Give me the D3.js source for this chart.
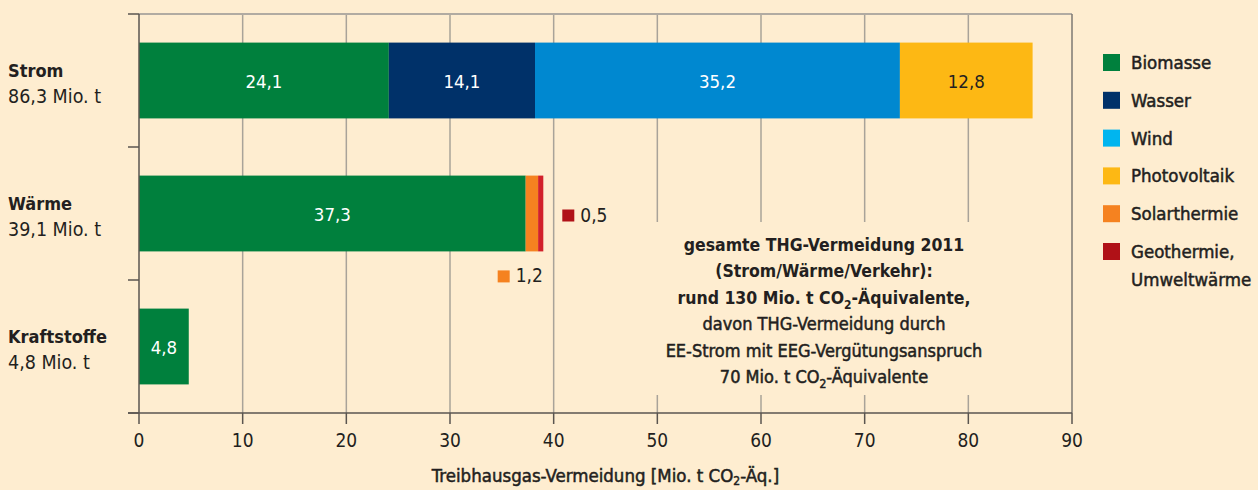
<!DOCTYPE html>
<html>
<head>
<meta charset="utf-8">
<script src="https://cdn.jsdelivr.net/npm/d3@7"></script>
<style>
  html, body { margin: 0; padding: 0; background: #feedd0; }
  svg { display: block; }
  text { font-family: "Liberation Sans Narrow", "DejaVu Sans Condensed", sans-serif; fill: #231f20; }
</style>
</head>
<body>
<svg id="chart"></svg>
<script>
// ── Data ──────────────────────────────────────────────────────────────────
const categories  = ["Strom", "Wärme", "Kraftstoffe"];
const totalLabels = ["86,3 Mio. t", "39,1 Mio. t", "4,8 Mio. t"];
const sources     = ["Biomasse", "Wasser", "Wind", "Photovoltaik", "Solarthermie", "Geothermie"];
const legendNames = ["Biomasse", "Wasser", "Wind", "Photovoltaik", "Solarthermie", ["Geothermie,", "Umweltwärme"]];
const strom       = [24.1, 14.1, 35.2, 12.8, 0, 0];
const waerme      = [37.3, 0, 0, 0, 1.2, 0.5];
const kraftstoffe = [4.8, 0, 0, 0, 0, 0];
const xTicks      = [0, 10, 20, 30, 40, 50, 60, 70, 80, 90];

const barColors    = ["#00803d", "#003169", "#0088d0", "#fdb814", "#f58220", "#d2202a"];
const legendColors = ["#00803d", "#003169", "#00b5ef", "#fdb814", "#f58220", "#b01117"];

const note = [
    { bold: true,  parts: ["gesamte THG-Vermeidung 2011"] },
    { bold: true,  parts: ["(Strom/Wärme/Verkehr):"] },
    { bold: true,  parts: ["rund 130 Mio. t CO", "2", "-Äquivalente,"] },
    { bold: false, parts: ["davon THG-Vermeidung durch"] },
    { bold: false, parts: ["EE-Strom mit EEG-Vergütungsanspruch"] },
    { bold: false, parts: ["70 Mio. t CO", "2", "-Äquivalente"] }
];

const W = 1258, H = 490;
const svg = d3.select("#chart").attr("width", W).attr("height", H);

const rows = [strom, waerme, kraftstoffe].map((v, i) => {
    const o = { cat: categories[i] };
    sources.forEach((s, j) => o[s] = v[j]);
    return o;
});
const series = d3.stack().keys(sources)(rows);

// ── Scales ────────────────────────────────────────────────────────────────
const x = d3.scaleLinear().domain([0, 90]).range([139, 1072]);
const y = d3.scaleBand().domain(categories).range([14, 413])
    .paddingInner(0.43).paddingOuter(0.215);
const step = y.step();

// ── Grid ──────────────────────────────────────────────────────────────────
svg.append("g")
    .selectAll("line")
    .data(xTicks.slice(1, -1))
    .join("line")
    .attr("x1", d => x(d)).attr("x2", d => x(d))
    .attr("y1", 14).attr("y2", 413)
    .attr("stroke", "#a9a399").attr("stroke-width", 1.5);

// frame top / right
svg.append("line").attr("x1", x(0)).attr("x2", x(90)).attr("y1", 14).attr("y2", 14)
    .attr("stroke", "#b1aba2").attr("stroke-width", 2);
svg.append("line").attr("x1", x(90)).attr("x2", x(90)).attr("y1", 14).attr("y2", 413)
    .attr("stroke", "#7d7873").attr("stroke-width", 1.5);

// cream box behind the note (hides grid)
svg.append("rect")
    .attr("x", 640).attr("y", 222).attr("width", 365).attr("height", 173)
    .attr("fill", "#feedd0");

// ── Bars ──────────────────────────────────────────────────────────────────
const seg = svg.append("g").selectAll("g")
    .data(series)
    .join("g")
    .attr("fill", (d, i) => barColors[i]);

seg.selectAll("rect")
    .data(d => d.filter(p => p[1] > p[0]))
    .join("rect")
    .attr("x", p => x(p[0]))
    .attr("width", p => x(p[1]) - x(p[0]))
    .attr("y", p => y(p.data.cat))
    .attr("height", y.bandwidth());

// value labels inside bars
const inside = [];
series.forEach((s, i) => s.forEach(p => {
    if (p[1] - p[0] >= 4) inside.push({ p, i });
}));
svg.append("g").selectAll("text")
    .data(inside)
    .join("text")
    .attr("x", d => (x(d.p[0]) + x(d.p[1])) / 2)
    .attr("y", d => y(d.p.data.cat) + y.bandwidth() / 2 + 7)
    .attr("text-anchor", "middle")
    .attr("font-size", 18.5)
    .style("fill", d => d.i === 3 ? "#231f20" : "#ffffff")
    .text(d => d3.format(".1f")(d.p[1] - d.p[0]).replace(".", ","));

// callouts for the small Wärme segments
const wRow = rows[1];
const callouts = [
    { src: 5, cx: x(wRow.Biomasse + wRow.Solarthermie + wRow.Geothermie) + 19,
      cy: y("Wärme") + y.bandwidth() / 2 + 2 },
    { src: 4, cx: x(wRow.Biomasse) - 28,
      cy: y("Wärme") + y.bandwidth() + 25 }
];
const cg = svg.append("g").selectAll("g").data(callouts).join("g");
cg.append("rect")
    .attr("x", d => d.cx).attr("y", d => d.cy - 6)
    .attr("width", 12).attr("height", 12)
    .attr("fill", d => legendColors[d.src]);
cg.append("text")
    .attr("x", d => d.cx + 18).attr("y", d => d.cy + 6)
    .attr("font-size", 19)
    .text(d => String(wRow[sources[d.src]]).replace(".", ","));

// ── Axes ──────────────────────────────────────────────────────────────────
const axisCol = "#5a5550";
svg.append("line").attr("x1", 128).attr("x2", x(90)).attr("y1", 413).attr("y2", 413)
    .attr("stroke", axisCol).attr("stroke-width", 1.5);
svg.append("line").attr("x1", x(0)).attr("x2", x(0)).attr("y1", 14).attr("y2", 413)
    .attr("stroke", axisCol).attr("stroke-width", 1.5);

// y ticks at band boundaries
const bounds = categories.map(c => y(c) - step * 0.215).concat([413]);
svg.append("g").selectAll("line").data(bounds).join("line")
    .attr("x1", 128).attr("x2", x(0))
    .attr("y1", d => d).attr("y2", d => d)
    .attr("stroke", axisCol).attr("stroke-width", 1.5);

// x ticks + labels
const xg = svg.append("g").selectAll("g").data(xTicks).join("g");
xg.append("line")
    .attr("x1", d => x(d)).attr("x2", d => x(d))
    .attr("y1", 413).attr("y2", 424)
    .attr("stroke", axisCol).attr("stroke-width", 1.5);
xg.append("text")
    .attr("x", d => x(d)).attr("y", 447)
    .attr("text-anchor", "middle").attr("font-size", 19)
    .text(d => d);

// x axis title
const xt = svg.append("text")
    .attr("x", (x(0) + x(90)) / 2).attr("y", 482)
    .attr("text-anchor", "middle").attr("font-size", 18.5)
    .style("stroke", "#231f20").style("stroke-width", 0.5);
xt.append("tspan").text("Treibhausgas-Vermeidung [Mio. t CO");
xt.append("tspan").attr("font-size", 12).attr("dy", 3).text("2");
xt.append("tspan").attr("dy", -3).text("-Äq.]");

// ── Category labels ───────────────────────────────────────────────────────
const cl = svg.append("g").selectAll("g").data(categories).join("g");
cl.append("text")
    .attr("x", 8).attr("y", d => y(d) + y.bandwidth() / 2 - 4)
    .attr("font-size", 18).attr("font-weight", "bold")
    .text(d => d);
cl.append("text")
    .attr("x", 8).attr("y", d => y(d) + y.bandwidth() / 2 + 22)
    .attr("font-size", 19.5)
    .text((d, i) => totalLabels[i]);

// ── Legend ────────────────────────────────────────────────────────────────
const lg = svg.append("g").selectAll("g").data(legendNames).join("g")
    .attr("transform", (d, i) => `translate(1103,${54 + i * 37.8})`);
lg.append("rect").attr("width", 17).attr("height", 17)
    .attr("fill", (d, i) => legendColors[i]);
lg.append("text")
    .attr("x", 28).attr("y", 15)
    .attr("font-size", 18.5)
    .style("stroke", "#231f20").style("stroke-width", 0.5)
    .selectAll("tspan")
    .data(d => Array.isArray(d) ? d : [d])
    .join("tspan")
    .attr("x", 28).attr("dy", (d, i) => i === 0 ? 0 : 28)
    .text(d => d);

// ── Note ──────────────────────────────────────────────────────────────────
const nt = svg.append("g").selectAll("text").data(note).join("text")
    .attr("x", 824).attr("y", (d, i) => 251 + i * 26.4)
    .attr("text-anchor", "middle")
    .attr("font-size", d => d.bold ? 17.5 : 18)
    .attr("font-weight", d => d.bold ? "bold" : "normal")
    .style("stroke", d => d.bold ? "none" : "#231f20")
    .style("stroke-width", 0.5);
nt.selectAll("tspan")
    .data(d => d.parts)
    .join("tspan")
    .attr("font-size", (d, i) => i === 1 ? 12 : null)
    .attr("dy", (d, i) => i === 1 ? 5 : (i === 2 ? -5 : 0))
    .text(d => d);
</script>
</body>
</html>
